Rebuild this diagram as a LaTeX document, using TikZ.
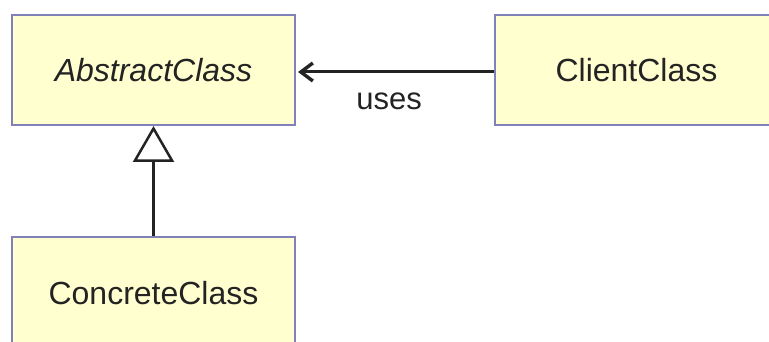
\documentclass[tikz,border=0pt]{standalone}
\usepackage{fontspec}
\setmainfont{Liberation Sans}
\usetikzlibrary{arrows.meta}
\definecolor{boxfill}{RGB}{255,255,208}
\definecolor{boxline}{RGB}{128,128,186}
\definecolor{ink}{RGB}{35,35,35}
\begin{document}
\begin{tikzpicture}[x=1pt,y=-1pt,
  classbox/.style={draw=boxline, fill=boxfill, line width=2pt, minimum width=283pt, minimum height=110pt, inner sep=0pt, text=ink, font=\fontsize{32}{38}\selectfont},
  conn/.style={draw=ink, line width=3pt}]
\useasboundingbox (0,0) rectangle (769,342);
\node[classbox] (abs) at (153.5,70) {\itshape AbstractClass};
\node[classbox, minimum width=300pt] (cli) at (645,70) {\hspace*{-17pt}ClientClass};
\node[classbox, minimum height=120pt] (con) at (153.5,297) {\raisebox{8pt}{ConcreteClass}};
\draw[conn, -{Straight Barb[length=12pt, width=18pt, line width=3.4pt]}, shorten >=2pt] ([yshift=-2pt]cli.west) -- ([yshift=-2pt]abs.east)
  node[pos=0.53, yshift=-29pt, text=ink, font=\fontsize{31}{36}\selectfont] (uses) {uses};
\draw[conn, line width=2.5pt, -{Triangle[open, length=36pt, width=41pt, fill=white]}] (con.north) -- (abs.south);
\end{tikzpicture}
\end{document}
